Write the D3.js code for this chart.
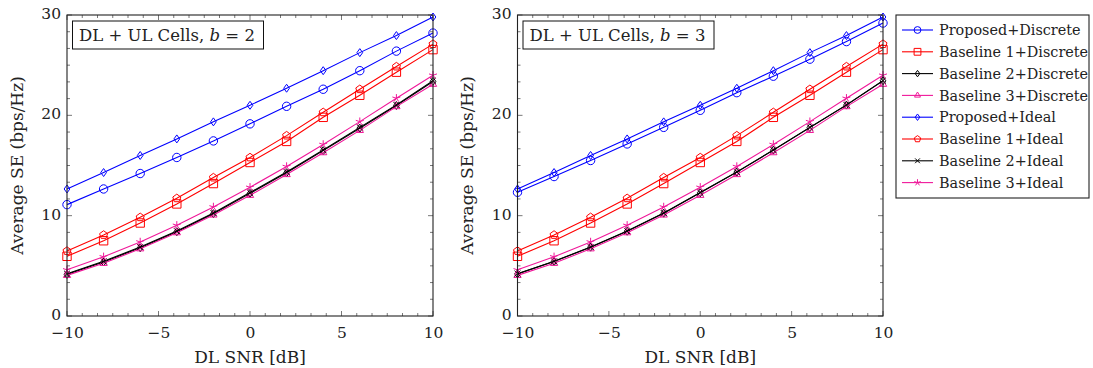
<!DOCTYPE html>
<html><head><meta charset="utf-8">
<script src="https://cdn.jsdelivr.net/npm/d3@7"></script>
<style>
body{margin:0;background:#fff;}
text{font-family:"DejaVu Serif",serif;fill:#222;}
</style></head>
<body><svg id="c" width="1093" height="368"></svg>
<script>
const snr = [-10,-8,-6,-4,-2,0,2,4,6,8,10];
const xTicks = [-10,-5,0,5,10];
const yTicks = [0,10,20,30];
// b = 2 panel
const propDisc2 = [11.1,12.66,14.2,15.8,17.45,19.15,20.9,22.6,24.45,26.4,28.2];
const b1Disc2   = [5.95,7.5,9.27,11.17,13.2,15.3,17.4,19.8,22.0,24.3,26.55];
const b2Disc2   = [4.15,5.38,6.8,8.4,10.2,12.22,14.28,16.48,18.72,20.98,23.38];
const b3Disc2   = [4.05,5.25,6.7,8.3,10.07,12.03,14.1,16.28,18.5,20.87,23.1];
// b = 3 panel
const propDisc3 = [12.33,13.9,15.5,17.15,18.8,20.5,22.26,23.9,25.6,27.35,29.2];
const b1Disc3   = [5.95,7.5,9.27,11.17,13.2,15.3,17.4,19.8,22.0,24.3,26.55];
const b2Disc3   = [4.2,5.43,6.86,8.45,10.25,12.28,14.34,16.53,18.78,21.02,23.44];
const b3Disc3   = [4.05,5.25,6.7,8.3,10.07,12.03,14.1,16.28,18.5,20.87,23.1];
// ideal (same in both panels)
const propIdeal = [12.66,14.3,16.0,17.65,19.35,21.0,22.7,24.45,26.25,27.95,29.8];
const b1Ideal   = [6.48,8.08,9.84,11.73,13.8,15.8,17.98,20.3,22.6,24.86,27.1];
const b2Ideal   = [4.22,5.45,6.88,8.47,10.27,12.3,14.36,16.55,18.8,21.04,23.46];
const b3Ideal   = [4.6,5.9,7.38,9.04,10.87,12.83,14.9,17.1,19.37,21.7,24.0];
const names = ["Proposed+Discrete","Baseline 1+Discrete","Baseline 2+Discrete","Baseline 3+Discrete",
               "Proposed+Ideal","Baseline 1+Ideal","Baseline 2+Ideal","Baseline 3+Ideal"];
const colors = ["#0000ff","#ff0000","#000000","#f0189a","#0000ff","#ff0000","#000000","#f0189a"];
const marks = ["circle","square","diamond","triangle","diamond","pentagon","cross","star"];

function markPath(type, r){
  const p = d3.path();
  if(type==="circle"){ p.moveTo(r,0); p.arc(0,0,r,0,2*Math.PI); }
  else if(type==="square"){ p.rect(-r,-r,2*r,2*r); }
  else if(type==="diamond"){ const w=r*0.68,h=r*0.95; p.moveTo(0,-h);p.lineTo(w,0);p.lineTo(0,h);p.lineTo(-w,0);p.closePath(); }
  else if(type==="triangle"){ p.moveTo(0,-r); p.lineTo(r*0.87,r*0.5); p.lineTo(-r*0.87,r*0.5); p.closePath(); }
  else if(type==="pentagon"){ for(let i=0;i<5;i++){const a=-Math.PI/2+i*2*Math.PI/5; const x=r*Math.cos(a),y=r*Math.sin(a); i?p.lineTo(x,y):p.moveTo(x,y);} p.closePath(); }
  else if(type==="cross"){ const s=r*0.7; p.moveTo(-s,-s);p.lineTo(s,s);p.moveTo(-s,s);p.lineTo(s,-s); }
  else if(type==="star"){ for(let i=0;i<5;i++){const a=-Math.PI/2+i*2*Math.PI/5; p.moveTo(0,0); p.lineTo(r*Math.cos(a),r*Math.sin(a));} }
  return p.toString();
}

const svg = d3.select("#c");
const yTop=15, yBot=316;

function panel(x0, x1, series, label, bval){
  const x = d3.scaleLinear().domain([-10,10]).range([x0,x1]);
  const y = d3.scaleLinear().domain([0,30]).range([yBot,yTop]);
  const g = svg.append("g");
  const xMinor = d3.range(-10,10.001,5/6);
  const yMinor = d3.range(0,30.001,10/6);
  const tk = g.append("g").attr("stroke","#555").attr("stroke-width",0.8);
  xMinor.forEach(v=>{
    const maj = xTicks.some(t=>Math.abs(t-v)<1e-6); const L = maj?5:3;
    tk.append("line").attr("x1",x(v)).attr("x2",x(v)).attr("y1",yBot).attr("y2",yBot-L);
    tk.append("line").attr("x1",x(v)).attr("x2",x(v)).attr("y1",yTop).attr("y2",yTop+L);
  });
  yMinor.forEach(v=>{
    const maj = yTicks.some(t=>Math.abs(t-v)<1e-6); const L = maj?5:3;
    tk.append("line").attr("y1",y(v)).attr("y2",y(v)).attr("x1",x0).attr("x2",x0+L);
    tk.append("line").attr("y1",y(v)).attr("y2",y(v)).attr("x1",x1).attr("x2",x1-L);
  });
  const xa = d3.axisBottom(x).tickValues(xTicks).tickSize(0).tickPadding(6).tickFormat(d=>d<0?"\u2212"+(-d):d);
  g.append("g").attr("transform",`translate(0,${yBot})`).call(xa)
    .call(s=>s.select(".domain").remove())
    .selectAll("text").attr("font-family","DejaVu Serif").attr("font-size",15.5).attr("fill","#222").attr("dy","0.72em").attr("y",10.5);
  const ya = d3.axisLeft(y).tickValues(yTicks).tickSize(0).tickPadding(6);
  g.append("g").attr("transform",`translate(${x0},0)`).call(ya)
    .call(s=>s.select(".domain").remove())
    .selectAll("text").attr("font-family","DejaVu Serif").attr("font-size",15.5).attr("fill","#222").attr("dy","0.22em");
  g.append("text").attr("x",(x0+x1)/2).attr("y",363).attr("text-anchor","middle").attr("font-size",17).text("DL SNR [dB]");
  g.append("text").attr("transform",`translate(${x0-50},${(yTop+yBot)/2}) rotate(-90)`).attr("text-anchor","middle").attr("dy","0.35em").attr("font-size",17).text("Average SE (bps/Hz)");
  const line = d3.line().x((d,i)=>x(snr[i])).y(d=>y(d));
  series.forEach((vals,k)=>{
    const sg = g.append("g");
    sg.append("path").attr("d",line(vals)).attr("fill","none").attr("stroke",colors[k]).attr("stroke-width",1.1);
    vals.forEach((v,i)=>{
      sg.append("path").attr("d",markPath(marks[k],4.2)).attr("transform",`translate(${x(snr[i])},${y(v)})`)
        .attr("fill","none").attr("stroke",colors[k]).attr("stroke-width",1);
    });
  });
  g.append("rect").attr("x",x0).attr("y",yTop).attr("width",x1-x0).attr("height",yBot-yTop)
    .attr("fill","none").attr("stroke","#222").attr("stroke-width",1.1);
  g.append("rect").attr("x",x0+5.5).attr("y",21).attr("width",191).attr("height",28).attr("fill","#fff").attr("stroke","#111").attr("stroke-width",1);
  const t = g.append("text").attr("x",x0+12).attr("y",41).attr("font-size",16.5);
  t.append("tspan").text(label+" ");
  t.append("tspan").attr("font-style","italic").text("b");
  t.append("tspan").text(" = "+bval);
}

panel(67,433,[propDisc2,b1Disc2,b2Disc2,b3Disc2,propIdeal,b1Ideal,b2Ideal,b3Ideal],"DL + UL Cells,",2);
panel(517.5,883,[propDisc3,b1Disc3,b2Disc3,b3Disc3,propIdeal,b1Ideal,b2Ideal,b3Ideal],"DL + UL Cells,",3);

const lg = svg.append("g");
lg.append("rect").attr("x",896).attr("y",15).attr("width",193).attr("height",183).attr("fill","#fff").attr("stroke","#222").attr("stroke-width",1.1);
names.forEach((n,k)=>{
  const yy = 30 + k*21.8;
  lg.append("line").attr("x1",902).attr("x2",933).attr("y1",yy).attr("y2",yy).attr("stroke",colors[k]).attr("stroke-width",1.1);
  lg.append("path").attr("d",markPath(marks[k],3.4)).attr("transform",`translate(917.5,${yy})`).attr("fill","none").attr("stroke",colors[k]).attr("stroke-width",1);
  lg.append("text").attr("x",939).attr("y",yy).attr("dy","0.36em").attr("font-size",14.4).text(n);
});
</script></body></html>
